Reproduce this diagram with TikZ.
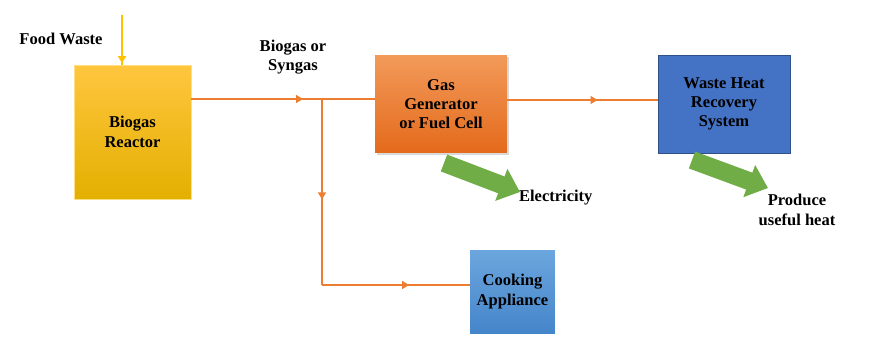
\documentclass[tikz,border=0pt]{standalone}
\usepackage{fontspec}
\setmainfont{Liberation Serif}
\newfontfamily\figfont{Liberation Serif}
\usetikzlibrary{arrows.meta,decorations.markings,shadows}

\definecolor{figGold}{HTML}{FFC000}
\definecolor{figGoldTop}{HTML}{FFC63F}
\definecolor{figGoldLow}{HTML}{E3B000}
\definecolor{figOrange}{HTML}{ED7D31}
\definecolor{figOrangeTop}{HTML}{F29A5A}
\definecolor{figOrangeLow}{HTML}{E46A1B}
\definecolor{figBlue}{HTML}{4472C4}
\definecolor{figSkyTop}{HTML}{6CA6DE}
\definecolor{figSkyLow}{HTML}{4585CA}
\definecolor{figGreen}{HTML}{70AD47}

\tikzset{
  lbl/.style={align=center,inner sep=1pt,font=\figfont\fontsize{9.4}{11}\selectfont\bfseries},
  unit/.style={lbl,inner sep=2pt},
  flow/.style={draw=figOrange,line width=1.2pt},
  midarr/.style={postaction={decorate,decoration={markings,
      mark=at position #1 with {\arrow{Triangle[length=4pt,width=4.5pt]}}}}},
  power/.style={draw=figGreen,line width=0.36cm,-{Triangle[length=0.4cm,width=0.66cm]}}
}

\begin{document}
\begin{tikzpicture}[x=0.02cm,y=-0.02cm]
\useasboundingbox (0,0) rectangle (876,363);
% units
\node[unit,minimum width=2.34cm,minimum height=2.68cm,draw=figGold!50,
  top color=figGoldTop,middle color=figGold,bottom color=figGoldLow]
  (reactor) at (132.5,132) {Biogas\\Reactor};
\node[unit,minimum width=2.64cm,minimum height=1.96cm,
  top color=figOrangeTop,bottom color=figOrangeLow,
  drop shadow={shadow xshift=1.2pt,shadow yshift=-1.2pt,opacity=.3}]
  (gasgen) at (441,104) {Gas\\Generator\\or Fuel Cell};
\node[unit,minimum width=2.64cm,minimum height=1.96cm,fill=figBlue,draw=figBlue!70!black]
  (whr) at (724,104) {Waste Heat\\Recovery\\System};
\node[unit,minimum width=1.70cm,minimum height=1.66cm,
  top color=figSkyTop,bottom color=figSkyLow]
  (cook) at (512.5,291.5) {Cooking\\Appliance};
% labels
\node[lbl] (food) at (61,39) {Food Waste};
\node[lbl] (gas) at (293,57) {Biogas or\\Syngas};
\node[lbl,anchor=west] (elec) at (517,198) {Electricity};
\node[lbl] (heat) at (797,210) {Produce\\useful heat};
% pipes
\coordinate (feed) at (122,15);
\coordinate (split) at (322,99);
\coordinate (corner) at (322,285);
\draw[draw=figGold,line width=1.2pt,midarr=0.97] (feed) -- (feed |- reactor.north);
\draw[flow,midarr=0.855] (reactor.east |- split) -- (split);
\draw[flow] (split) -- (gasgen.west |- split);
\draw[flow,midarr=0.6] (gasgen.east |- 0,100) -- (whr.west |- 0,100);
\draw[flow,midarr=0.54] (split) -- (corner);
\draw[flow,midarr=0.59] (corner) -- (cook.west |- corner);
% outputs
\coordinate (e1) at (444,163);
\coordinate (e2) at (520,192);
\coordinate (h1) at (692,160);
\coordinate (h2) at (768,188);
\draw[power] (e1) -- (e2);
\draw[power] (h1) -- (h2);
\end{tikzpicture}
\end{document}
